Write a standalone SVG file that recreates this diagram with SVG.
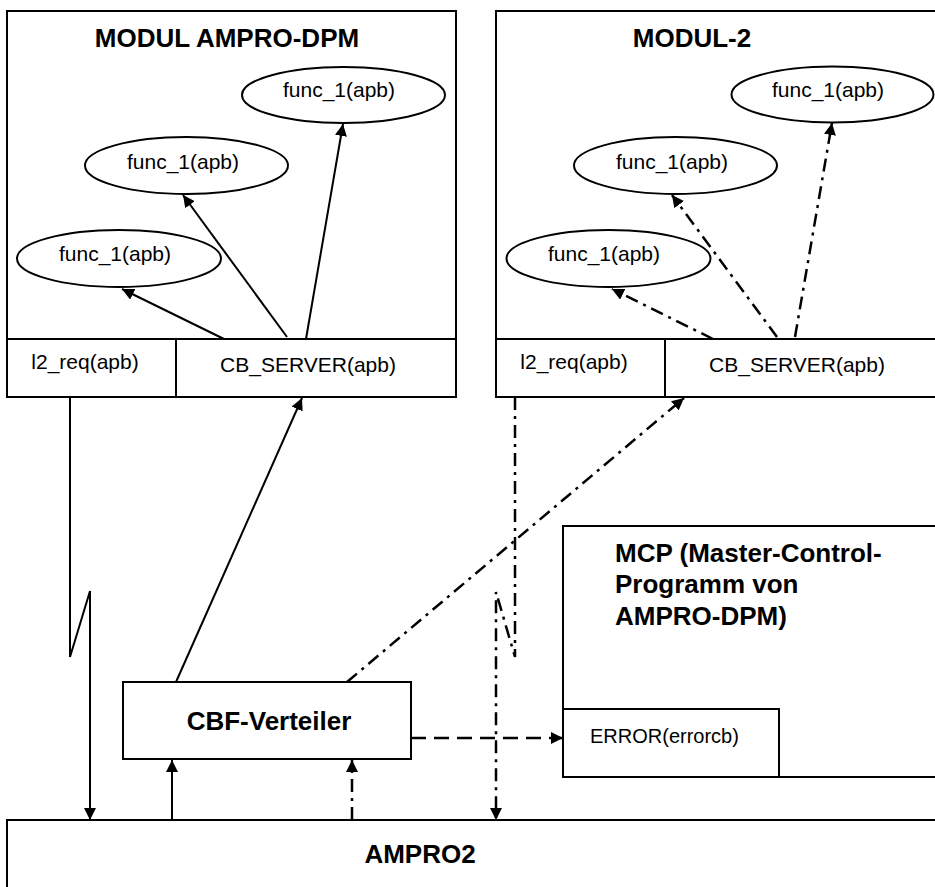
<svg xmlns="http://www.w3.org/2000/svg" width="935" height="887" viewBox="0 0 935 887">
<defs>
<style>
.box{fill:#fff;stroke:#000;stroke-width:2}
.ln{fill:none;stroke:#000;stroke-width:2}
.t{font-family:"Liberation Sans",Arial,sans-serif;font-size:21px;fill:#000}
.b{font-family:"Liberation Sans",Arial,sans-serif;font-size:26px;font-weight:bold;fill:#000}
.solid{fill:none;stroke:#000;stroke-width:2}
.dd{fill:none;stroke:#000;stroke-width:2.5;stroke-dasharray:13 6 3 6}
.dash{fill:none;stroke:#000;stroke-width:2.5;stroke-dasharray:15 8}
</style>
<marker id="ah" viewBox="0 0 12 12" refX="12" refY="6" markerWidth="12" markerHeight="12" orient="auto" markerUnits="userSpaceOnUse">
<path d="M0,0 L12,6 L0,12 z" fill="#000"/>
</marker>
</defs>
<rect width="935" height="887" fill="#fff"/>

<g id="ampro2">
<rect class="box" x="7" y="820" width="940" height="80"/>
<text class="b" x="420" y="863" text-anchor="middle">AMPRO2</text>
</g>

<g id="modul-ampro-dpm">
<rect class="box" x="7" y="11" width="449" height="386"/>
<text class="b" x="227" y="47" text-anchor="middle">MODUL AMPRO-DPM</text>
</g>
<g id="l2req-1">
<rect class="box" x="7" y="339" width="169" height="58"/>
<text class="t" x="85" y="369" text-anchor="middle">l2_req(apb)</text>
</g>
<g id="cbserver-1">
<rect class="box" x="176" y="339" width="280" height="58"/>
<text class="t" x="308" y="372" text-anchor="middle">CB_SERVER(apb)</text>
</g>
<g id="func-1a">
<ellipse class="box" cx="119" cy="258.5" rx="102" ry="28.5"/>
<text class="t" x="115" y="261" text-anchor="middle">func_1(apb)</text>
</g>
<g id="func-1b">
<ellipse class="box" cx="186.5" cy="165.5" rx="101.5" ry="28.5"/>
<text class="t" x="183" y="169" text-anchor="middle">func_1(apb)</text>
</g>
<g id="func-1c">
<ellipse class="box" cx="343.5" cy="95" rx="101.5" ry="28"/>
<text class="t" x="339" y="97" text-anchor="middle">func_1(apb)</text>
</g>

<g id="modul-2">
<rect class="box" x="496" y="11" width="450" height="386"/>
<text class="b" x="692" y="47" text-anchor="middle">MODUL-2</text>
</g>
<g id="l2req-2">
<rect class="box" x="496" y="339" width="169" height="58"/>
<text class="t" x="574" y="369" text-anchor="middle">l2_req(apb)</text>
</g>
<g id="cbserver-2">
<rect class="box" x="665" y="339" width="281" height="58"/>
<text class="t" x="797" y="372" text-anchor="middle">CB_SERVER(apb)</text>
</g>
<g id="func-2a">
<ellipse class="box" cx="608.5" cy="258.5" rx="102" ry="28.5"/>
<text class="t" x="604" y="261" text-anchor="middle">func_1(apb)</text>
</g>
<g id="func-2b">
<ellipse class="box" cx="675.5" cy="165.5" rx="101.5" ry="28.5"/>
<text class="t" x="672" y="169" text-anchor="middle">func_1(apb)</text>
</g>
<g id="func-2c">
<ellipse class="box" cx="832.5" cy="94.5" rx="101" ry="28"/>
<text class="t" x="828" y="97" text-anchor="middle">func_1(apb)</text>
</g>

<g id="mcp">
<rect class="box" x="563" y="526" width="384" height="251"/>
<text class="b" x="615" y="562">MCP (Master-Control-</text>
<text class="b" x="615" y="593">Programm von</text>
<text class="b" x="615" y="625">AMPRO-DPM)</text>
</g>
<g id="error">
<rect class="box" x="563" y="709" width="216" height="68"/>
<text class="t" x="590" y="743" style="font-size:20px">ERROR(errorcb)</text>
</g>

<g id="cbf-verteiler">
<rect class="box" x="123" y="682" width="288" height="77"/>
<text class="b" x="269" y="730" text-anchor="middle">CBF-Verteiler</text>
</g>

<g id="connectors">
<path class="solid" d="M224,339 L122,289" marker-end="url(#ah)"/>
<path class="solid" d="M287,337 L183,195" marker-end="url(#ah)"/>
<path class="solid" d="M306,339 L343,124" marker-end="url(#ah)"/>
<path class="solid" d="M176,682 L302,398" marker-end="url(#ah)"/>
<path class="solid" d="M70,397 V657 L90,591 V820" marker-end="url(#ah)"/>
<path class="solid" d="M172,820 V760" marker-end="url(#ah)"/>
<path class="dd" d="M713,339 L612,289" marker-end="url(#ah)"/>
<path class="dd" d="M777,337 L672,195" marker-end="url(#ah)"/>
<path class="dd" d="M795,337 L832,123" marker-end="url(#ah)"/>
<path class="dd" d="M347,682 L684,398" marker-end="url(#ah)"/>
<path class="dd" d="M515,397 V657 L496,592 V820" marker-end="url(#ah)"/>
<path class="dd" d="M352,820 V760" marker-end="url(#ah)"/>
<path class="dash" d="M411,738 L563,738" marker-end="url(#ah)"/>
</g>
</svg>
